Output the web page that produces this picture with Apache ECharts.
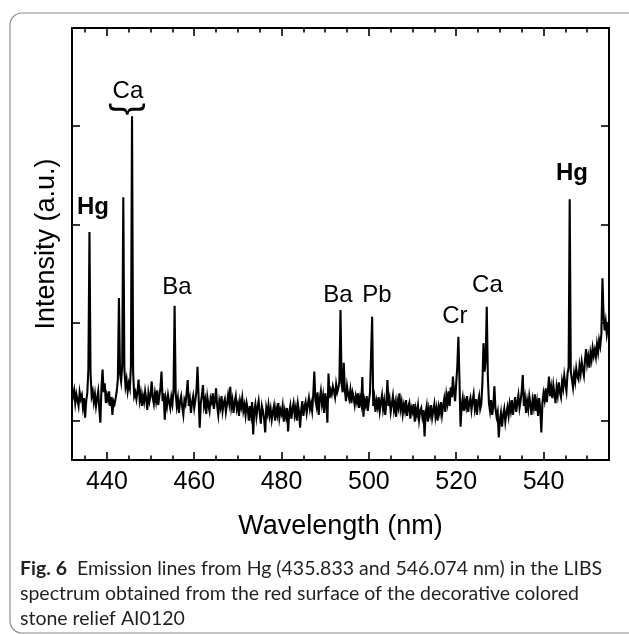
<!DOCTYPE html>
<html>
<head>
<meta charset="utf-8">
<script src="https://cdn.jsdelivr.net/npm/echarts@6/dist/echarts.min.js"></script>
<style>
  html, body { margin: 0; padding: 0; background: #fff; }
  #chart { width: 629px; height: 634px; }
</style>
</head>
<body>
<div id="chart"></div>
<script>
// LIBS spectrum, sampled every 0.25 nm from 432 nm to 555 nm
const wavelengthStart = 432;
const wavelengthStep = 0.25;
const intensity = [
  1330,1250,1310,1180,1270,1210,1150,1290,1220,1260,1140,1230,1030,1200,1280,1520,2922,1480,1250,1300,
  1190,1270,1150,1230,1300,1120,980,1340,1520,1290,1380,1180,1260,1210,1300,1150,1240,1060,1200,1170,
  1230,1300,1420,2250,1480,1400,1560,3276,1520,1350,1420,1300,1380,1330,1560,4100,1500,1250,1290,1220,
  1300,1420,1210,1280,1150,1250,1190,1300,1220,1110,1280,1200,1260,1400,1230,1170,1280,1200,1310,1160,
  1250,1330,1500,1200,1280,1010,1220,1150,1260,1190,1130,1240,1170,1300,2171,1280,1150,1230,1080,1200,
  1250,1140,1060,1210,1170,1280,1415,1150,1220,1080,1190,1250,1130,1210,1300,1550,1240,930,1180,1260,
  1364,1150,1210,1070,1240,1160,1100,1230,1190,1280,1120,1210,1330,1150,1060,1200,1140,1250,1100,1180,
  1220,1090,1170,1260,1180,1345,1140,1210,1080,1190,1250,1120,1170,1050,1200,1140,1230,1100,1160,1060,
  1180,1120,1000,1150,1060,1190,860,1110,1170,1040,1130,1200,1080,970,1150,1100,1020,880,1130,1070,
  1160,1050,1120,1010,1090,1150,1000,1120,1060,1180,1030,1110,1070,1150,990,1100,1040,1130,890,1080,
  1150,1020,1120,1180,1060,1130,1000,1170,1090,930,1110,1200,1050,1140,1190,1080,1160,1230,1120,1180,
  1100,1260,1500,1210,1150,1290,1060,1220,1300,1170,1250,1080,1280,1200,980,1480,1230,1310,1270,1350,
  1300,1240,1370,1290,1330,1400,2128,1380,1290,1590,1310,1200,1350,1270,1220,1310,1180,1290,1240,1160,
  1250,1190,1280,1130,1230,1170,1445,1040,1210,1160,1250,1100,1200,1280,1300,2060,1150,1230,1090,1200,
  1140,1240,1100,1190,1260,1120,1200,1060,1180,1415,1150,1220,1090,1170,1250,1110,1180,1040,1200,1140,
  1280,1120,1190,1070,1160,1100,1210,1050,1140,1180,1020,1130,1090,1170,990,1120,1060,1150,1010,1100,
  1130,1040,1110,840,1080,1150,990,1120,1060,1160,1030,1100,1170,1040,1120,1000,1140,1080,1190,1060,
  1150,1220,1090,1260,1180,1300,1150,1340,1240,1450,1290,1200,1380,1550,1856,1420,940,1150,1230,1100,
  1200,1140,1250,1090,1180,1230,1110,1200,1270,1130,1220,1060,1190,1250,1120,1170,1380,1790,1500,1620,
  2161,1450,1180,1100,1210,1060,1150,1350,1120,1040,1090,830,1000,1080,940,1060,1120,990,1080,1140,
  1050,1170,1100,1210,1060,1150,1240,1090,1180,1260,1130,1200,1300,1466,1150,1230,1080,1200,1120,1250,
  1170,1060,1210,1140,1270,1100,1190,1050,1230,1120,880,1180,1280,1210,1330,1190,1300,1450,1250,1340,
  1230,1360,1270,1180,1340,1260,1390,1290,1240,1400,1330,1460,1370,1300,1480,1540,3255,1500,1420,1340,
  1480,1400,1530,1450,1420,1560,1480,1600,1520,1460,1620,1730,1580,1650,1540,1690,1620,1740,1660,1720,
  1650,1780,1700,1820,1760,1880,2451,2080,1920,2010,1880,1960,1920
];

// Axis ticks
const xMajorTicks = [440, 460, 480, 500, 520, 540];
const xMinorTicks = [435, 445, 450, 455, 465, 470, 475, 485, 490, 495, 505, 510, 515, 525, 530, 535, 545, 550];
const yTicks = [1000, 2000, 3000, 4000];

// Element labels over the emission lines (text, wavelength, intensity)
const lineNames = ['Hg', 'Ca', 'Ba', 'Ba', 'Pb', 'Cr', 'Ca', 'Hg'];
const lineLabelWavelengths = [436.8, 444.8, 456.05, 492.9, 501.85, 519.7, 527.15, 546.5];
const lineLabelIntensities = [3177, 4358, 2362, 2281, 2281, 2067, 2382, 3523];
const boldLines = [true, false, false, false, false, false, false, true];

// Brace grouping the Ca triplet
const caGroupCenter = [444.8, 4175];

const captionLines = [
  '{b|Fig. 6}  Emission lines from Hg (435.833 and 546.074 nm) in the LIBS',
  'spectrum obtained from the red surface of the decorative colored',
  'stone relief AI0120'
];

const FONT = "'Liberation Sans', Arial, Helvetica, sans-serif";
const CAPTION_FONT = "Lato, 'Liberation Sans', sans-serif";

const spectrum = intensity.map((v, i) => [wavelengthStart + i * wavelengthStep, v]);

const xRange = { min: 432, max: 555 };
const yRange = { min: 600, max: 5000 };

const frameLine = { color: '#000', width: 2 };
const tickLine = { color: '#000', width: 1.6 };

function xAxisDef(position, ticks, length, withLine, extra) {
  return Object.assign({
    type: 'value', position, min: xRange.min, max: xRange.max,
    axisLine: { show: withLine, onZero: false, lineStyle: frameLine },
    axisTick: { show: true, inside: true, length, lineStyle: tickLine, customValues: ticks },
    axisLabel: { show: false },
    splitLine: { show: false }
  }, extra || {});
}

function yAxisDef(position, extra) {
  return Object.assign({
    type: 'value', position, min: yRange.min, max: yRange.max,
    axisLine: { show: true, onZero: false, lineStyle: frameLine },
    axisTick: { show: true, inside: true, length: 8, lineStyle: tickLine, customValues: yTicks },
    axisLabel: { show: false },
    splitLine: { show: false }
  }, extra || {});
}

const markData = lineNames.map((name, i) => ({
  coord: [lineLabelWavelengths[i], lineLabelIntensities[i]],
  label: {
    formatter: name,
    fontSize: 24,
    fontWeight: boldLines[i] ? 'bold' : 'normal'
  }
}));
markData.push({
  coord: caGroupCenter,
  label: { formatter: '}', fontSize: 38, rotate: -90 }
});

const chart = echarts.init(document.getElementById('chart'), null, { renderer: 'canvas' });

chart.setOption({
  animation: false,
  backgroundColor: '#fff',
  grid: { left: 72, right: 20, top: 28, bottom: 174, containLabel: false, outerBoundsMode: 'none' },
  xAxis: [
    xAxisDef('bottom', xMajorTicks, 8, true, {
      axisLabel: {
        show: true, customValues: xMajorTicks, margin: 10,
        fontSize: 25, color: '#000', fontFamily: FONT
      },
      name: 'Wavelength (nm)', nameLocation: 'middle', nameGap: 53,
      nameTextStyle: { fontSize: 27, color: '#000', fontFamily: FONT }
    }),
    xAxisDef('bottom', xMinorTicks, 4.5, false),
    xAxisDef('top', xMajorTicks, 8, true),
    xAxisDef('top', xMinorTicks, 4.5, false)
  ],
  yAxis: [
    yAxisDef('left', {
      name: 'Intensity (a.u.)', nameLocation: 'middle', nameGap: 12,
      nameTextStyle: { fontSize: 27, color: '#000', fontFamily: FONT }
    }),
    yAxisDef('right')
  ],
  series: [{
    type: 'line',
    xAxisIndex: 0,
    yAxisIndex: 0,
    data: spectrum,
    showSymbol: false,
    symbol: 'none',
    silent: true,
    lineStyle: { color: '#000', width: 2.1, join: 'miter' },
    markPoint: {
      silent: true,
      symbol: 'circle',
      symbolSize: 1,
      itemStyle: { color: 'rgba(0,0,0,0)' },
      label: { show: true, position: 'inside', color: '#000', fontFamily: FONT },
      data: markData
    }
  }],
  graphic: [
    {
      type: 'rect', silent: true, z: -10,
      shape: { x: 10, y: 13, width: 650, height: 620, r: 12 },
      style: { fill: 'none', stroke: '#8c8c8c', lineWidth: 1.2 }
    }
  ].concat(captionLines.map((t, i) => ({
    type: 'text', silent: true,
    x: 20, y: 569 + i * 24.7,
    style: {
      text: t, fill: '#231f20', fontSize: 19.5, fontFamily: CAPTION_FONT,
      verticalAlign: 'middle', align: 'left',
      rich: { b: { fontWeight: 'bold', fontSize: 19.5, fontFamily: CAPTION_FONT, fill: '#231f20' } }
    }
  })))
});
</script>
</body>
</html>
